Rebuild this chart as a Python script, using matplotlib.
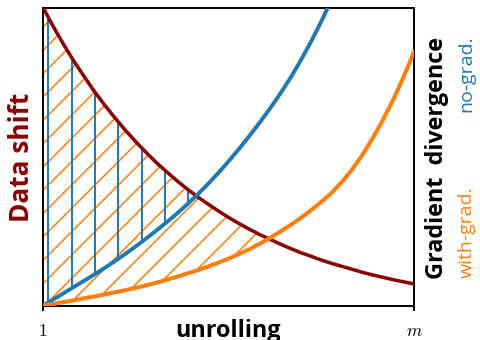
import matplotlib
matplotlib.use("Agg")
import matplotlib.pyplot as plt
import numpy as np

# ---- data ----
steps = [1.0 + 0.25 * i for i in range(37)]
data_shift = [1.000, 0.936, 0.876, 0.820, 0.768, 0.718, 0.672, 0.629, 0.588, 0.550,
              0.514, 0.480, 0.449, 0.419, 0.391, 0.365, 0.341, 0.318, 0.296, 0.276,
              0.257, 0.239, 0.223, 0.207, 0.192, 0.178, 0.166, 0.153, 0.142, 0.132,
              0.122, 0.112, 0.103, 0.095, 0.087, 0.080, 0.073]
no_grad = [0.000, 0.021, 0.042, 0.063, 0.084, 0.105, 0.127, 0.150, 0.174, 0.199,
           0.225, 0.252, 0.280, 0.309, 0.340, 0.373, 0.408, 0.445, 0.484, 0.525,
           0.568, 0.613, 0.660, 0.710, 0.763, 0.822, 0.885, 0.953, 1.026, 1.10,
           1.18, 1.26, 1.35, 1.44, 1.53, 1.63, 1.73]
with_grad = [0.000, 0.006, 0.012, 0.018, 0.025, 0.031, 0.038, 0.045, 0.052, 0.060,
             0.068, 0.077, 0.087, 0.097, 0.108, 0.119, 0.131, 0.144, 0.158, 0.173,
             0.189, 0.207, 0.227, 0.248, 0.270, 0.294, 0.320, 0.348, 0.378, 0.415,
             0.457, 0.506, 0.562, 0.624, 0.692, 0.768, 0.851]
no_grad_marks = [1.129, 1.697, 2.26, 2.827, 3.394, 3.961, 4.528]
xtick_vals = [1.0, 10.0]
xtick_labels = [r"$1$", r"$m$"]

DPI = 140
plt.rcParams["mathtext.fontset"] = "cm"
plt.rcParams["hatch.linewidth"] = 0.8
plt.rcParams["font.family"] = ["Open Sans", "DejaVu Sans"]

fig = plt.figure(figsize=(480 / DPI, 341 / DPI), dpi=DPI)
ax = fig.add_axes([43 / 480, 1 - 306.7 / 341, (414 - 43) / 480, (306.7 - 8.5) / 341])

x = np.array(steps)
red = np.array(data_shift)
blue = np.array(no_grad)
orange = np.array(with_grad)

c_red = "#8b0000"
c_blue = "#1f77b4"
c_orange = "#ff7f0e"

# orange hatched area between with-grad. divergence and data shift
ax.fill_between(x, orange, red, where=orange <= red, interpolate=True,
                facecolor="none", edgecolor=c_orange, hatch="//", linewidth=0)
# blue vertical strokes in the area between no-grad. divergence and data shift
region = ax.fill_between(x, blue, red, where=blue <= red, interpolate=True,
                         facecolor="none", edgecolor="none", linewidth=0)
strokes = ax.vlines(no_grad_marks, 0, 1, colors=c_blue, lw=1.0, zorder=2)
strokes.set_clip_path(region.get_paths()[0], ax.transData)

ax.plot(x, red, color=c_red, lw=1.8, zorder=3)
ax.plot(x, blue, color=c_blue, lw=2.0, zorder=3)
ax.plot(x, orange, color=c_orange, lw=2.1, zorder=3)

ax.set_xlim(1, 10)
ax.set_ylim(0, 1)
ax.set_xticks(xtick_vals)
ax.set_xticklabels(xtick_labels, fontsize=9)
ax.set_yticks([])
ax.tick_params(axis="x", direction="out", length=2.6, width=1.0, pad=5.5)
for s in ax.spines.values():
    s.set_linewidth(1.0)
    s.set_color("black")

fig.text(0.476, 0.011, "unrolling", ha="center", va="baseline",
         fontsize=12, fontweight="bold")
fig.text(0.044, 0.538, "Data shift", ha="center", va="center", rotation=90,
         fontsize=13.5, fontweight="bold", color=c_red)
fig.text(0.910, 0.538, "Gradient  divergence", ha="center", va="center", rotation=90,
         fontsize=12, fontweight="bold", color="black")
fig.text(0.972, 1 - 278 / 341, "with-grad.", ha="center", va="bottom", rotation=90,
         fontsize=10, color=c_orange)
fig.text(0.972, 1 - 35 / 341, "no-grad.", ha="center", va="top", rotation=90,
         fontsize=10, color=c_blue)

fig.savefig("out.png", dpi=DPI)
